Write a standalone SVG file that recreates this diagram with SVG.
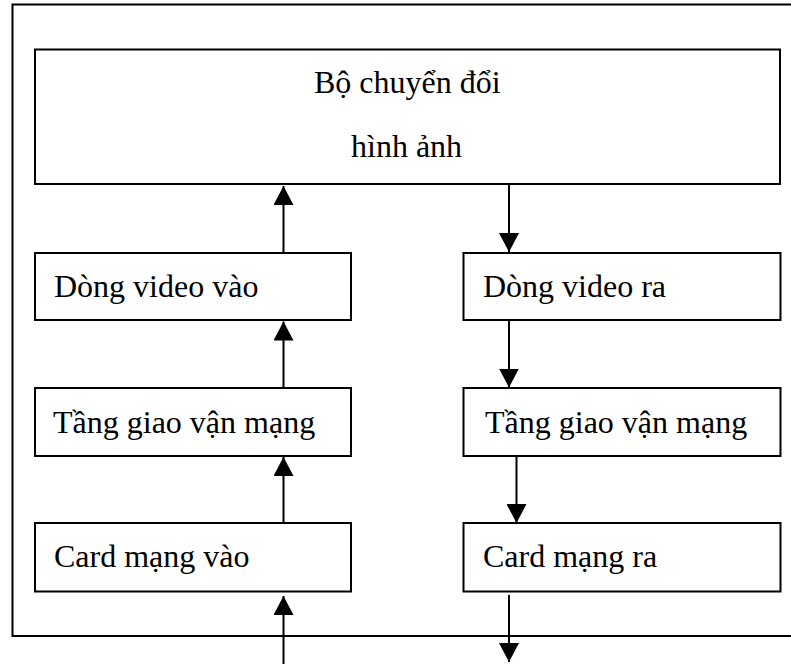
<svg xmlns="http://www.w3.org/2000/svg" width="791" height="664" viewBox="0 0 791 664">
  <style>
    .frame { fill: none; stroke: #000; stroke-width: 2; }
    .box { fill: #fff; stroke: #000; stroke-width: 2; }
    .label { font-family: "Liberation Serif", "Times New Roman", serif; font-size: 32px; fill: #000; }
    .link { stroke: #000; stroke-width: 2; fill: none; }
  </style>
  <defs>
    <marker id="head" markerUnits="userSpaceOnUse" markerWidth="20" markerHeight="20" viewBox="0 0 20 20" refX="19" refY="10" orient="auto">
      <path d="M0,0 L19,10 L0,20 Z" fill="#000"/>
    </marker>
  </defs>
  <rect width="791" height="664" fill="#fff"/>

  <!-- outer boundary (right side runs past the page edge) -->
  <rect class="frame" x="12.5" y="4.5" width="790" height="631.5"/>

  <g id="converter">
    <rect class="box" x="35" y="49.5" width="745" height="134.5"/>
    <text class="label" x="314" y="93">Bộ chuyển đổi</text>
    <text class="label" x="351" y="157">hình ảnh</text>
  </g>

  <g id="video-in">
    <rect class="box" x="35" y="253" width="316" height="67"/>
    <text class="label" x="54" y="297">Dòng video vào</text>
  </g>
  <g id="transport-in">
    <rect class="box" x="35" y="388" width="316" height="68"/>
    <text class="label" x="53" y="433">Tầng giao vận mạng</text>
  </g>
  <g id="nic-in">
    <rect class="box" x="35" y="523" width="316" height="68.5"/>
    <text class="label" x="54" y="567">Card mạng vào</text>
  </g>

  <g id="video-out">
    <rect class="box" x="463.5" y="253" width="317" height="67"/>
    <text class="label" x="483" y="297">Dòng video ra</text>
  </g>
  <g id="transport-out">
    <rect class="box" x="463.5" y="388" width="317" height="68"/>
    <text class="label" x="485" y="433">Tầng giao vận mạng</text>
  </g>
  <g id="nic-out">
    <rect class="box" x="463.5" y="523" width="317" height="68.5"/>
    <text class="label" x="483" y="567">Card mạng ra</text>
  </g>

  <g id="connectors">
    <!-- inbound path, bottom to top -->
    <line class="link" x1="283.5" y1="664" x2="283.5" y2="596" marker-end="url(#head)"/>
    <line class="link" x1="283.5" y1="523" x2="283.5" y2="457" marker-end="url(#head)"/>
    <line class="link" x1="283.5" y1="388" x2="283.5" y2="321.5" marker-end="url(#head)"/>
    <line class="link" x1="283.5" y1="253" x2="283.5" y2="186" marker-end="url(#head)"/>
    <!-- outbound path, top to bottom -->
    <line class="link" x1="509" y1="184" x2="509" y2="252" marker-end="url(#head)"/>
    <line class="link" x1="509" y1="320" x2="509" y2="387.5" marker-end="url(#head)"/>
    <line class="link" x1="516.5" y1="456" x2="516.5" y2="523" marker-end="url(#head)"/>
    <line class="link" x1="509" y1="595" x2="509" y2="662" marker-end="url(#head)"/>
  </g>
</svg>
